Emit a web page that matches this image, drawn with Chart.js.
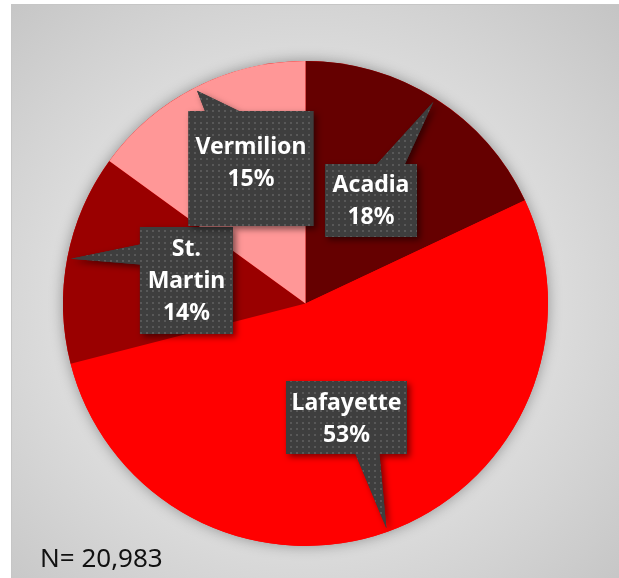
<!DOCTYPE html>
<html>
<head>
    <title>Parish Pie</title>
    <script src="https://cdn.jsdelivr.net/npm/chart.js"></script>
    <style>
        body { margin: 0; background: #ffffff; }
        #panel {
            position: absolute; left: 11px; top: 4px; width: 608px; height: 574px;
            background: radial-gradient(ellipse 75% 75% at 48% 52%, #e4e4e4 0%, #dcdcdc 55%, #c3c3c3 100%);
            border-top: 1px solid #c6c6c6; border-left: 1px solid #c6c6c6;
        }
        #wrap { position: absolute; left: 0; top: 0; width: 619px; height: 578px; }
    </style>
</head>
<body>
    <div id="panel"></div>
    <div id="wrap"><canvas id="parishChart"></canvas></div>
    <script>
        const parishes = ['Acadia', 'Lafayette', 'St. Martin', 'Vermilion'];
        const labelLines = [['Acadia'], ['Lafayette'], ['St.', 'Martin'], ['Vermilion']];
        const shares = [18, 53, 14, 15];
        const sliceColors = ['#650000', '#ff0000', '#9a0000', '#ff9797'];
        const totalN = '20,983';

        // callout boxes: centre offset in pie radii, box size, where the tail leaves the box
        const callouts = [
            { dx: 0.270, dy: -0.425, w: 92, h: 73, side: 'top', along: 20, base: 28, textDy: 1 },
            { dx: 0.169, dy: 0.470, w: 121, h: 73, side: 'bottom', along: 21, base: 24, textDy: 2 },
            { dx: -0.491, dy: -0.095, w: 93, h: 107, side: 'left', along: -26, base: 20, textDy: 1 },
            { dx: -0.225, dy: -0.557, w: 125, h: 115, side: 'top', along: -29, base: 34, textDy: -5 }
        ];

        const dotPattern = () => {
            const pc = document.createElement('canvas');
            pc.width = 6; pc.height = 6;
            const p = pc.getContext('2d');
            p.fillStyle = '#3e3e3e';
            p.fillRect(0, 0, 6, 6);
            p.fillStyle = '#585858';
            p.fillRect(2, 2, 2, 2);
            return p;
        };

        const calloutPath = (ctx, c, cx, cy, tip) => {
            const l = cx - c.w / 2, r = cx + c.w / 2, t = cy - c.h / 2, b = cy + c.h / 2;
            ctx.beginPath();
            ctx.moveTo(l, t);
            if (c.side === 'top') {
                ctx.lineTo(cx + c.along - c.base / 2, t);
                ctx.lineTo(tip.x, tip.y);
                ctx.lineTo(cx + c.along + c.base / 2, t);
            }
            ctx.lineTo(r, t);
            ctx.lineTo(r, b);
            if (c.side === 'bottom') {
                ctx.lineTo(cx + c.along + c.base / 2, b);
                ctx.lineTo(tip.x, tip.y);
                ctx.lineTo(cx + c.along - c.base / 2, b);
            }
            ctx.lineTo(l, b);
            if (c.side === 'left') {
                ctx.lineTo(l, cy + c.along + c.base / 2);
                ctx.lineTo(tip.x, tip.y);
                ctx.lineTo(l, cy + c.along - c.base / 2);
            }
            ctx.closePath();
        };

        const pieExtras = {
            id: 'pieExtras',
            beforeDatasetsDraw(chart) {
                // soft shadow under the whole pie
                const arc = chart.getDatasetMeta(0).data[0];
                const ctx = chart.ctx;
                ctx.save();
                ctx.shadowColor = 'rgba(0,0,0,0.35)';
                ctx.shadowBlur = 14;
                ctx.fillStyle = '#ff0000';
                ctx.beginPath();
                ctx.arc(arc.x, arc.y, arc.outerRadius, 0, Math.PI * 2);
                ctx.fill();
                ctx.restore();
            },
            afterDatasetsDraw(chart) {
                const ctx = chart.ctx;
                const total = shares.reduce((a, b) => a + b, 0);
                const pattern = ctx.createPattern(dotPattern().canvas, 'repeat');
                chart.getDatasetMeta(0).data.forEach((arc, i) => {
                    const c = callouts[i];
                    const R = arc.outerRadius;
                    const mid = (arc.startAngle + arc.endAngle) / 2;
                    const tip = { x: arc.x + Math.cos(mid) * R * 0.985, y: arc.y + Math.sin(mid) * R * 0.985 };
                    const cx = arc.x + c.dx * R, cy = arc.y + c.dy * R;

                    ctx.save();
                    ctx.shadowColor = 'rgba(0,0,0,0.5)';
                    ctx.shadowBlur = 6;
                    ctx.shadowOffsetX = 3;
                    ctx.shadowOffsetY = 3;
                    calloutPath(ctx, c, cx, cy, tip);
                    ctx.fillStyle = '#3e3e3e';
                    ctx.fill();
                    ctx.restore();

                    ctx.save();
                    calloutPath(ctx, c, cx, cy, tip);
                    ctx.fillStyle = pattern;
                    ctx.fill();

                    const lines = labelLines[i].concat([Math.round(shares[i] / total * 100) + '%']);
                    const lh = 32;
                    ctx.fillStyle = '#ffffff';
                    ctx.font = 'bold 23px "Noto Sans"';
                    ctx.textAlign = 'center';
                    ctx.textBaseline = 'middle';
                    lines.forEach((s, k) => {
                        ctx.fillText(s, cx, cy + c.textDy + (k - (lines.length - 1) / 2) * lh);
                    });
                    ctx.restore();
                });
            },
            afterDraw(chart) {
                const ctx = chart.ctx;
                ctx.save();
                ctx.fillStyle = '#111111';
                ctx.font = '26px "Noto Sans"';
                ctx.textAlign = 'left';
                ctx.textBaseline = 'alphabetic';
                ctx.fillText('N= ' + totalN, 40, 567);
                ctx.restore();
            }
        };

        new Chart(document.getElementById('parishChart'), {
            type: 'pie',
            data: {
                labels: parishes,
                datasets: [{
                    data: shares,
                    backgroundColor: sliceColors,
                    borderWidth: 0
                }]
            },
            options: {
                responsive: true,
                maintainAspectRatio: false,
                animation: false,
                layout: { padding: { left: 63, right: 71, top: 61, bottom: 32 } },
                plugins: {
                    legend: { display: false },
                    tooltip: { enabled: false }
                }
            },
            plugins: [pieExtras]
        });
    </script>
</body>
</html>
